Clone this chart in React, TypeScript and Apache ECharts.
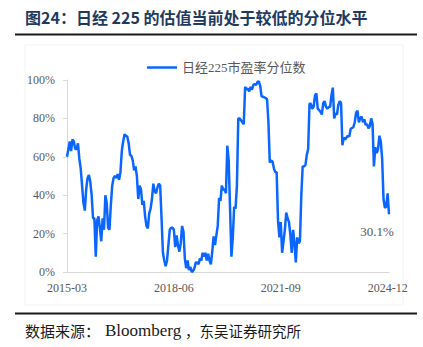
import React, { useEffect, useRef } from "react";
import * as echarts from "echarts";

const titleText = "图24：日经 225 的估值当前处于较低的分位水平";
const seriesName = "日经225市盈率分位数";
const yTicks = [0, 20, 40, 60, 80, 100];
const lastLabel = "30.1%";

// semi-monthly observations, 2015-03 to 2024-12 (percentile, %)
const values = [
  60, 64, 68, 63, 69, 68, 64, 64, 67, 59,
  54, 45, 36, 32, 43, 49, 50.5, 47, 40, 28,
  28, 8, 27, 29, 23, 16, 28, 22, 40, 36,
  23, 22, 35, 45, 49, 50, 49, 51, 48, 52,
  63, 68, 71.7, 71, 70.5, 67, 61, 60.5, 58, 53,
  55, 50, 38, 45, 43, 35, 37, 29, 24, 22.7,
  30.5, 33, 38, 46, 42, 41, 44, 46, 45, 28,
  10, 6, 3, 6, 14, 22, 23, 23, 22, 13,
  19, 14, 10.6, 15, 24, 21, 7, 2, 6, 1,
  2.7, 0, 0.5, 2, 5, 5, 4, 7, 6, 10,
  8, 10, 6, 9.5, 6, 4, 10.6, 18.5, 14, 19,
  24, 38.5, 37, 45, 43, 43, 41, 65.8, 58, 33,
  8, 18, 34, 33, 45, 80, 80, 79, 78, 77,
  96.5, 95, 95.5, 94, 96.5, 95, 97.4, 98, 97.4, 99,
  99.3, 97, 91.5, 91.3, 91, 90.6, 90, 78, 57, 58,
  57.5, 54, 52, 52, 27, 18, 26, 10, 16, 22,
  31, 28, 26, 19.4, 10, 22, 15, 5, 18, 15,
  16, 40, 55, 55, 55.7, 61, 64, 87.8, 87.5, 85,
  86, 92, 93, 85, 84.4, 83.5, 82, 88, 89, 86,
  85, 86, 86, 92, 96, 80, 82.6, 82, 87, 89,
  88, 66, 70, 69, 70, 71, 70.5, 74.5, 75, 75.5,
  78, 83, 84, 78, 80, 81, 78, 79.5, 76.6, 77,
  74.8, 76, 80, 77, 55, 65, 62, 64, 71, 68,
  59, 38, 33.5, 34, 41, 30.1,
];

const startYear = 2015;
const startMonth = 3;
const categories: string[] = values.map((_, k) => {
  const m = Math.floor(k / 2);
  const total = startYear * 12 + (startMonth - 1) + m;
  const y = Math.floor(total / 12);
  const mo = (total % 12) + 1;
  return `${y}-${String(mo).padStart(2, "0")}-${k % 2 === 0 ? "01" : "16"}`;
});

const serif = "'Liberation Serif', 'Noto Sans CJK SC', serif";
const cjk = "'Noto Sans CJK SC', sans-serif";
const gray = "#595959";
const blue = "#0a66ff";

export default function App() {
  const ref = useRef<HTMLDivElement>(null);
  useEffect(() => {
    if (!ref.current) return;
    const chart = echarts.init(ref.current, undefined, { renderer: "svg" });
    const lastIdx = values.length - 1;
    chart.setOption({
      animation: false,
      backgroundColor: "#ffffff",
      grid: { left: 67, right: 34, top: 80, bottom: 75 },
      legend: {
        show: true,
        left: 142,
        top: 56,
        icon: "rect",
        itemWidth: 30,
        itemHeight: 2.5,
        itemGap: 5,
        textStyle: { color: gray, fontSize: 13, fontFamily: serif },
        data: [seriesName],
      },
      xAxis: {
        type: "category",
        data: categories,
        boundaryGap: false,
        axisLine: { lineStyle: { color: "#d9d9d9", width: 1 } },
        axisTick: { show: false },
        axisLabel: {
          interval: (idx: number) => idx % 78 === 0,
          formatter: (v: string) => v.slice(0, 7),
          color: gray,
          fontSize: 12,
          fontFamily: serif,
          margin: 10,
        },
        splitLine: { show: false },
      },
      yAxis: {
        type: "value",
        min: yTicks[0],
        max: yTicks[yTicks.length - 1],
        interval: 20,
        axisLine: { show: true, lineStyle: { color: "#d9d9d9", width: 1 } },
        axisTick: { show: true, length: 4, lineStyle: { color: "#d9d9d9" } },
        axisLabel: {
          formatter: "{value}%",
          color: gray,
          fontSize: 12,
          fontFamily: serif,
          margin: 12,
        },
        splitLine: { show: false },
      },
      series: [
        {
          name: seriesName,
          type: "line",
          data: values,
          symbol: "none",
          showSymbol: false,
          lineStyle: { color: blue, width: 2.5 },
          itemStyle: { color: blue },
          markPoint: {
            symbol: "circle",
            symbolSize: 0,
            silent: true,
            data: [
              {
                coord: [categories[lastIdx], values[lastIdx]],
                value: values[lastIdx],
              },
            ],
            label: {
              show: true,
              position: "bottom",
              distance: 5,
              offset: [-12, 6],
              formatter: lastLabel,
              color: gray,
              fontSize: 13,
              fontFamily: serif,
            },
          },
        },
      ],
      graphic: [
        {
          type: "rect",
          shape: { x: 25, y: 45, width: 378, height: 260 },
          style: { fill: "none", stroke: "#f3f3f3", lineWidth: 1 },
          z: -1,
        },
        {
          type: "text",
          x: 25,
          y: 17,
          style: {
            text: titleText,
            fill: "#1f3a5f",
            fontSize: 16,
            fontWeight: "bold",
            fontFamily: cjk,
            verticalAlign: "middle",
          },
        },
        {
          type: "line",
          shape: { x1: 15, y1: 34.5, x2: 417, y2: 34.5 },
          style: { stroke: "#1a1a1a", lineWidth: 2 },
        },
        {
          type: "line",
          shape: { x1: 15, y1: 313.5, x2: 417, y2: 313.5 },
          style: { stroke: "#1a1a1a", lineWidth: 2 },
        },
        {
          type: "text",
          x: 25,
          y: 330,
          style: {
            text: "数据来源：",
            fill: "#1a1a1a",
            fontSize: 15,
            fontFamily: cjk,
            verticalAlign: "middle",
          },
        },
        {
          type: "text",
          x: 105,
          y: 330,
          style: {
            text: "Bloomberg",
            fill: "#1a1a1a",
            fontSize: 17,
            fontFamily: serif,
            verticalAlign: "middle",
          },
        },
        {
          type: "text",
          x: 185,
          y: 330,
          style: {
            text: "，东吴证券研究所",
            fill: "#1a1a1a",
            fontSize: 14.5,
            fontFamily: cjk,
            verticalAlign: "middle",
          },
        },
      ],
    });
    return () => chart.dispose();
  }, []);
  return (
    <div
      ref={ref}
      style={{ position: "absolute", left: 0, top: 0, width: 423, height: 347 }}
    />
  );
}
